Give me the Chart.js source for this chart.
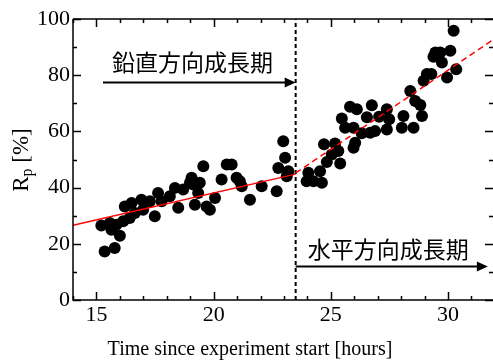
<!DOCTYPE html>
<html>
<head>
<meta charset="utf-8">
<script src="https://cdn.jsdelivr.net/npm/chart.js@4/dist/chart.umd.min.js"></script>
<style>
    html, body { margin: 0; padding: 0; background: #fff; overflow: hidden; }
    canvas { display: block; }
</style>
</head>
<body>
<canvas id="chart" width="493" height="364"></canvas>
<script>
// Datos medidos: tiempo (h) y Rp (%)
const timeHours = [
    15.35, 15.78, 16.00, 15.21, 15.57, 15.64, 15.85, 16.14, 16.21, 16.50,
    16.42, 16.64, 16.92, 16.99, 17.28, 17.49, 17.63, 17.78, 18.13, 18.35,
    18.49, 18.70, 18.99, 19.06, 19.20, 19.13, 19.41, 19.34, 19.70, 19.84,
    20.06, 19.56, 20.34, 20.56, 20.77, 20.98, 21.12, 21.20, 21.55, 22.05,
    22.69, 22.76, 22.97, 23.05, 23.19, 23.12,
    23.97, 24.04, 24.26, 24.62, 24.54, 24.71, 24.83, 25.04, 25.18, 25.40,
    25.47, 25.61, 25.82, 26.11, 25.97, 26.04, 25.97, 26.32, 26.54, 26.75,
    26.68, 26.89, 27.06, 27.39, 27.49, 27.39, 25.32, 28.10, 28.03, 28.53,
    28.39, 28.60, 28.82, 28.89, 28.96, 29.10, 29.29, 29.38, 29.46, 29.67,
    29.74, 29.96, 30.10, 30.35, 30.24
];
const rpPercent = [
    17.3, 18.5, 22.9, 26.5, 27.4, 25.0, 26.8, 28.0, 33.3, 34.5,
    29.2, 31.0, 35.7, 32.1, 35.1, 29.8, 38.1, 35.1, 36.9, 39.9,
    32.8, 39.3, 41.7, 43.5, 33.9, 41.1, 41.7, 38.1, 33.3, 32.1,
    36.3, 47.6, 42.9, 48.2, 48.2, 43.5, 42.3, 40.5, 35.7, 40.5,
    38.7, 47.0, 56.5, 50.6, 45.8, 44.0,
    42.3, 45.3, 42.3, 41.7, 45.8, 55.4, 49.1, 51.8, 55.7, 48.6,
    64.6, 61.3, 68.8, 67.9, 61.3, 56.0, 54.2, 59.3, 65.0, 69.3,
    59.5, 60.1, 65.2, 67.9, 64.3, 60.7, 53.0, 65.5, 61.3, 61.3,
    74.4, 70.8, 69.4, 65.5, 78.0, 80.4, 80.4, 86.6, 88.1, 88.1,
    84.5, 79.2, 88.7, 82.1, 95.8
];

// Rectas de ajuste (extremos)
const fitVerticalX = [14, 23.5];
const fitVerticalY = [26.6, 44.8];
const fitHorizontalX = [23.5, 31.92];
const fitHorizontalY = [45.2, 92.6];

// Límite entre fases
const phaseBoundary = 23.5;

// Ejes
const xMin = 14, xMax = 31.92;
const yMin = 0, yMax = 100;
const xTickLabels = [15, 20, 25, 30];
const yTickLabels = [0, 20, 40, 60, 80, 100];
const xMinorTicks = [14, 16, 17, 18, 19, 21, 22, 23, 24, 26, 27, 28, 29, 31];
const yMinorTicks = [10, 30, 50, 70, 90];

// Textos
const xTitle = 'Time since experiment start [hours]';
const phaseLabels = ['鉛直方向成長期', '水平方向成長期'];
const phaseArrows = [
    { from: 15.28, to: 23.5, y: 77.5, textX: 19.1, textY: 84.6 },
    { from: 23.5, to: 31.7, y: 12.1, textX: 27.45, textY: 17.9 }
];

const SERIF = "'Liberation Serif', 'Times New Roman', serif";
Chart.defaults.font.family = SERIF;
Chart.defaults.color = '#000';

const toXY = (xs, ys) => xs.map((x, i) => ({ x: x, y: ys[i] }));

// Plugin: marco con marcas hacia dentro, títulos, flechas y textos
const decorPlugin = {
    id: 'decor',
    afterDatasetsDraw(chart) {
        const ctx = chart.ctx;
        const area = chart.chartArea;
        const xs = chart.scales.x;
        const ys = chart.scales.y;
        ctx.save();
        ctx.strokeStyle = '#000';
        ctx.lineWidth = 1.5;

        // ejes izquierdo, inferior y superior
        ctx.beginPath();
        ctx.moveTo(area.left, area.top);
        ctx.lineTo(area.left, area.bottom);
        ctx.lineTo(area.right + 2, area.bottom);
        ctx.moveTo(area.left, area.top);
        ctx.lineTo(area.right + 2, area.top);
        ctx.stroke();

        const tickX = (v, len) => {
            const px = Math.round(xs.getPixelForValue(v)) + 0.5;
            ctx.moveTo(px, area.bottom); ctx.lineTo(px, area.bottom - len);
            ctx.moveTo(px, area.top); ctx.lineTo(px, area.top + len);
        };
        const tickY = (v, len) => {
            const py = Math.round(ys.getPixelForValue(v)) + 0.5;
            ctx.moveTo(area.left, py); ctx.lineTo(area.left + len, py);
            ctx.moveTo(area.right, py); ctx.lineTo(area.right - len, py);
        };
        ctx.beginPath();
        xTickLabels.forEach(v => tickX(v, 8));
        xMinorTicks.forEach(v => tickX(v, 4));
        yTickLabels.forEach(v => tickY(v, 8));
        yMinorTicks.forEach(v => tickY(v, 4));
        ctx.stroke();

        ctx.fillStyle = '#000';

        // título eje X
        ctx.font = '20px ' + SERIF;
        ctx.textAlign = 'center';
        ctx.textBaseline = 'middle';
        ctx.fillText(xTitle, 250, 350);

        // título eje Y con subíndice
        ctx.save();
        ctx.translate(22, 160);
        ctx.rotate(-Math.PI / 2);
        ctx.textBaseline = 'middle';
        ctx.font = '23px ' + SERIF;
        const wR = ctx.measureText('R').width;
        ctx.font = '16px ' + SERIF;
        const wP = ctx.measureText('p').width;
        ctx.font = '23px ' + SERIF;
        const wRest = ctx.measureText(' [%]').width;
        const x0 = -(wR + wP + wRest) / 2;
        ctx.textAlign = 'left';
        ctx.fillText('R', x0, 0);
        ctx.font = '16px ' + SERIF;
        ctx.fillText('p', x0 + wR, 6);
        ctx.font = '23px ' + SERIF;
        ctx.fillText(' [%]', x0 + wR + wP, 0);
        ctx.restore();

        // flechas y textos de fases
        phaseArrows.forEach((a, i) => {
            const x1 = xs.getPixelForValue(a.from);
            const x2 = xs.getPixelForValue(a.to);
            const py = Math.round(ys.getPixelForValue(a.y)) + 0.5;
            ctx.beginPath();
            ctx.lineWidth = 2;
            ctx.moveTo(x1, py);
            ctx.lineTo(x2 - 8, py);
            ctx.stroke();
            ctx.beginPath();
            ctx.moveTo(x2, py);
            ctx.lineTo(x2 - 11, py - 5);
            ctx.lineTo(x2 - 11, py + 5);
            ctx.closePath();
            ctx.fill();

            ctx.font = "23px 'Noto Sans CJK JP', sans-serif";
            ctx.textAlign = 'center';
            ctx.textBaseline = 'middle';
            ctx.fillText(phaseLabels[i], xs.getPixelForValue(a.textX), ys.getPixelForValue(a.textY));
        });
        ctx.restore();
    }
};

const ctx = document.getElementById('chart').getContext('2d');
new Chart(ctx, {
    type: 'scatter',
    data: {
        datasets: [
            {
                label: 'Rp',
                data: toXY(timeHours, rpPercent),
                backgroundColor: '#000',
                borderColor: '#000',
                pointRadius: 6,
                pointBorderWidth: 0,
                order: 2
            },
            {
                type: 'line',
                label: 'fase',
                data: toXY([phaseBoundary, phaseBoundary], [yMin, yMax]),
                borderColor: '#000',
                borderWidth: 2,
                borderDash: [4, 3],
                pointRadius: 0,
                order: 3
            },
            {
                type: 'line',
                label: 'ajuste vertical',
                data: toXY(fitVerticalX, fitVerticalY),
                borderColor: '#ff0000',
                borderWidth: 1.5,
                pointRadius: 0,
                order: 1
            },
            {
                type: 'line',
                label: 'ajuste horizontal',
                data: toXY(fitHorizontalX, fitHorizontalY),
                borderColor: '#ff0000',
                borderWidth: 1.5,
                borderDash: [6, 4],
                pointRadius: 0,
                order: 1
            }
        ]
    },
    options: {
        responsive: false,
        animation: false,
        layout: { autoPadding: false, padding: { top: 19, right: 0, left: 0, bottom: 0 } },
        plugins: {
            legend: { display: false },
            tooltip: { enabled: false }
        },
        scales: {
            x: {
                type: 'linear',
                min: xMin,
                max: xMax,
                grid: { display: false, drawTicks: false },
                border: { display: false },
                afterBuildTicks: (scale) => {
                    scale.ticks = xTickLabels.map(v => ({ value: v }));
                },
                afterFit: (scale) => {
                    scale.height = 64;
                    scale.paddingLeft = 0;
                    scale.paddingRight = 0;
                },
                ticks: {
                    font: { size: 22 },
                    color: '#000',
                    padding: 2,
                    maxRotation: 0
                },
                title: { display: false }
            },
            y: {
                type: 'linear',
                min: yMin,
                max: yMax,
                grid: { display: false, drawTicks: false },
                border: { display: false },
                afterBuildTicks: (scale) => {
                    scale.ticks = yTickLabels.map(v => ({ value: v }));
                },
                afterFit: (scale) => {
                    scale.width = 73;
                    scale.paddingTop = 0;
                    scale.paddingBottom = 0;
                },
                ticks: {
                    font: { size: 22 },
                    color: '#000',
                    padding: 3
                }
            }
        }
    },
    plugins: [decorPlugin]
});
</script>
</body>
</html>
